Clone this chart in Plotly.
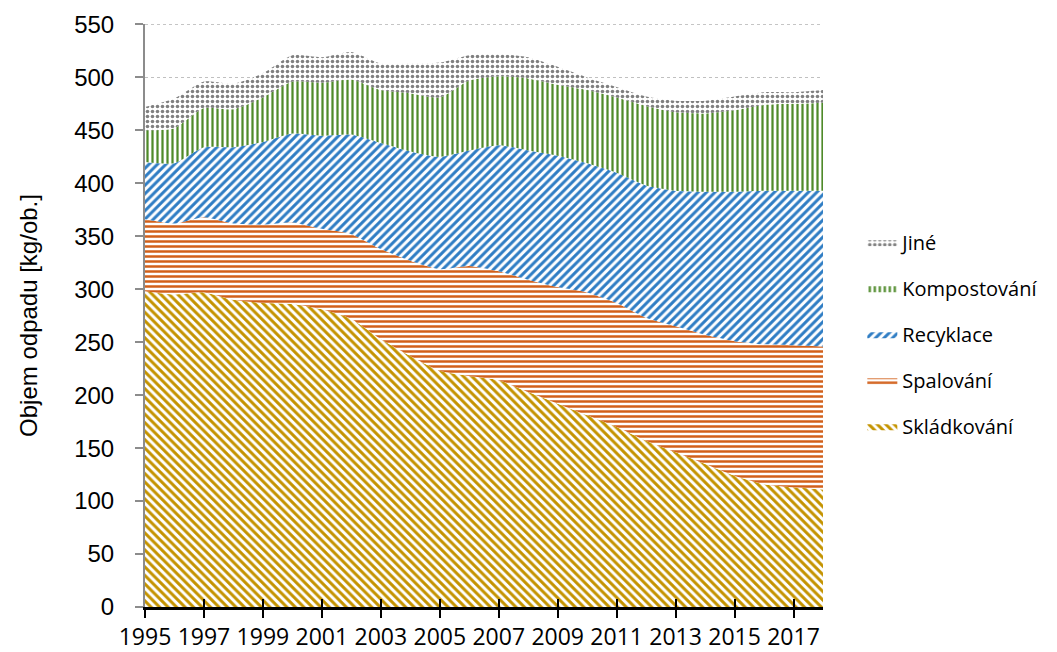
import plotly.graph_objects as go

years = list(range(1995, 2019))

# cumulative tops
skladkovani = [298, 295, 297, 290, 287, 286, 281, 272, 253, 237, 223, 218, 214, 203, 192, 181, 170, 157, 146, 135, 124, 116, 113, 111]
spalovani_top = [366, 362, 368, 362, 361, 363, 357, 352, 338, 327, 319, 322, 317, 309, 302, 297, 287, 273, 265, 257, 251, 248, 247, 246]
recyklace_top = [420, 419, 434, 434, 439, 447, 445, 446, 438, 430, 425, 431, 436, 431, 426, 419, 410, 398, 393, 392, 392, 393, 393, 393]
kompost_top = [450, 452, 471, 470, 481, 496, 495, 498, 488, 485, 481, 497, 501, 499, 493, 488, 481, 473, 467, 466, 469, 474, 475, 476]
jine_top = [472, 480, 496, 494, 504, 521, 519, 524, 513, 513, 514, 521, 522, 519, 510, 500, 491, 482, 478, 478, 482, 486, 486, 488]

spalovani = [b - a for a, b in zip(skladkovani, spalovani_top)]
recyklace = [b - a for a, b in zip(spalovani_top, recyklace_top)]
kompostovani = [b - a for a, b in zip(recyklace_top, kompost_top)]
jine = [b - a for a, b in zip(kompost_top, jine_top)]

series = [
    ("Skládkování", skladkovani, "#c49300", "\\", 6, 0.5, 5),
    ("Spalování", spalovani, "#d2601a", "-", 5, 0.5, 4),
    ("Recyklace", recyklace, "#2f7dc4", "/", 6, 0.5, 3),
    ("Kompostování", kompostovani, "#4f8a2a", "|", 5, 0.45, 2),
    ("Jiné", jine, "#7f7f7f", ".", 5, 0.4, 1),
]

fig = go.Figure()
for name, vals, col, shape, size, sol, rank in series:
    fig.add_trace(go.Scatter(
        x=years, y=vals, name=name, stackgroup="one", mode="lines",
        line=dict(width=0, shape="spline", smoothing=0.6, color=col),
        fillpattern=dict(shape=shape, fgcolor=col, bgcolor="white", size=size,
                         solidity=sol, fgopacity=1),
        legendgroup=name, legendrank=rank,
    ))

# overlay axis for ticks crossing the x axis line
fig.add_trace(go.Scatter(x=[1995], y=[0], xaxis="x2", mode="markers",
                         marker=dict(size=0.1, opacity=0), showlegend=False,
                         hoverinfo="skip"))

# top gridline at the upper edge of the value axis
fig.add_shape(type="line", xref="paper", x0=0, x1=1, yref="y", y0=550, y1=550,
              line=dict(color="#c0c0c0", width=1, dash="dot"), layer="below")

# page body has an 8px default margin, so the figure is sized to fit inside it
fig.update_layout(
    width=1049, height=644,
    margin=dict(l=137, r=234, t=16, b=45),
    plot_bgcolor="white", paper_bgcolor="white",
    font=dict(family="Liberation Sans, Arial, sans-serif", color="#000"),
    legend=dict(x=1.058, y=0.659, yanchor="top", xanchor="left",
                traceorder="grouped", tracegroupgap=17, borderwidth=0,
                font=dict(size=20, family="Open Sans, Liberation Sans, sans-serif"),
                itemwidth=30),
    xaxis2=dict(overlaying="x", range=[1995, 2018], tickmode="linear", tick0=1995,
                dtick=2, side="bottom", showticklabels=False, showgrid=False,
                ticks="inside", ticklen=8, tickwidth=2, tickcolor="#000",
                showline=False, zeroline=False, automargin=False),
    xaxis=dict(
        range=[1995, 2018], tickmode="linear", tick0=1995, dtick=2,
        showgrid=False, showline=True, linecolor="#000", linewidth=2.5,
        ticks="outside", ticklen=8, tickwidth=2, tickcolor="#000",
        ticklabelstandoff=0, automargin=False,
        tickfont=dict(size=23, family="Open Sans, Liberation Sans, sans-serif"),
    ),
    yaxis=dict(
        range=[0, 550.4], tickmode="linear", tick0=0, dtick=50,
        showgrid=True, gridcolor="#c0c0c0", griddash="dot", gridwidth=1,
        showline=True, linecolor="#8c8c8c", linewidth=2,
        ticks="outside", ticklen=8, tickwidth=2, tickcolor="#8c8c8c",
        ticklabelstandoff=16, automargin=False,
        tickfont=dict(size=24), zeroline=False,
        title=dict(text="Objem odpadu [kg/ob.]", font=dict(size=24), standoff=30),
    ),
)
fig.write_html("out.html")
